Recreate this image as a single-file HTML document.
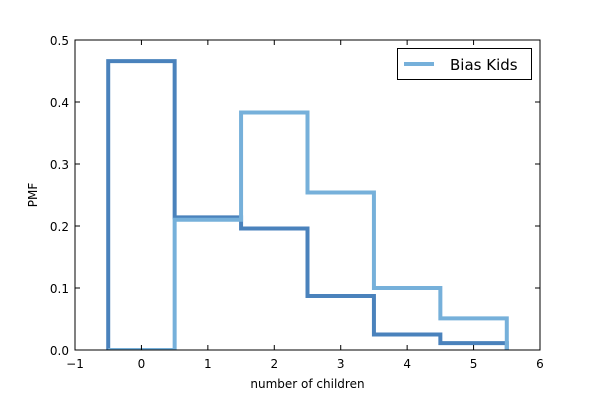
<!DOCTYPE html>
<html><head><meta charset="utf-8"><style>
body{margin:0;background:#fff;width:600px;height:400px;overflow:hidden}
svg text{font-family:"DejaVu Sans","Liberation Sans",sans-serif;font-size:12px;fill:#000}
</style></head><body>
<svg id="chart" width="600" height="400">
<defs><clipPath id="pc"><rect x="75" y="40" width="465" height="310"/></clipPath></defs>
</svg>
<script>
const categories=[0,1,2,3,4,5];
const actualValues=[0.466,0.214,0.196,0.087,0.025,0.011];
const biasValues=[0,0.21,0.383,0.254,0.100,0.051];
const xTicks=[-1,0,1,2,3,4,5,6];
const yTicks=[0.0,0.1,0.2,0.3,0.4,0.5];
const seriesNames=["Bias Kids"];
const L=75,R=540,T=40,B=350;
const sx=v=>L+(v+1)/7*(R-L);
const sy=v=>B-v/0.5*(B-T);
const svg=document.getElementById('chart');
const NS='http://www.w3.org/2000/svg';
function mk(t,a,p){const e=document.createElementNS(NS,t);for(const k in a)e.setAttribute(k,a[k]);(p||svg).appendChild(e);return e;}
function stepPath(vals){let d=`M${sx(categories[0]-0.5)},${sy(0)}`;vals.forEach((v,i)=>{d+=` V${sy(v)} H${sx(categories[i]+0.5)}`;});d+=` V${sy(0)}`;return d;}
const p1=mk('path',{d:stepPath(actualValues),fill:'none',stroke:'#4a82bc',"stroke-width":4,"clip-path":"url(#pc)"});


const p2=mk('path',{d:stepPath(biasValues),fill:'none',stroke:'#76b0da',"stroke-width":4,"clip-path":"url(#pc)"});


const frame=mk('rect',{x:L,y:T,width:R-L,height:B-T,fill:'none',stroke:'#000',"stroke-width":1});


xTicks.forEach(t=>{const x=sx(t);
mk('line',{x1:x,x2:x,y1:B,y2:B-5,stroke:'#000'});mk('line',{x1:x,x2:x,y1:T,y2:T+5,stroke:'#000'});
const tx=mk('text',{x:x,y:B+18,"text-anchor":"middle"});tx.textContent=t<0?'\u2212'+(-t):t;

});
yTicks.forEach(t=>{const y=sy(t);
mk('line',{x1:L,x2:L+5,y1:y,y2:y,stroke:'#000'});mk('line',{x1:R,x2:R-5,y1:y,y2:y,stroke:'#000'});
const tx=mk('text',{x:L-6,y:y+5,"text-anchor":"end"});tx.textContent=t.toFixed(1);

});
const xl=mk('text',{x:(L+R)/2,y:388,"text-anchor":"middle"});xl.textContent='number of children';


const yl=mk('text',{x:0,y:0,"text-anchor":"middle",transform:`translate(37,${(T+B)/2}) rotate(-90)`});yl.textContent='PMF';


const lg=mk('g',{});


mk('rect',{x:397.5,y:48.5,width:134,height:31,fill:'#fff',stroke:'#000'},lg);
mk('line',{x1:404,x2:434,y1:64,y2:64,stroke:'#76b0da',"stroke-width":4},lg);
const lt=mk('text',{x:450,y:70,style:'font-size:15px'},lg);lt.textContent=seriesNames[0];


</script>
</body></html>
